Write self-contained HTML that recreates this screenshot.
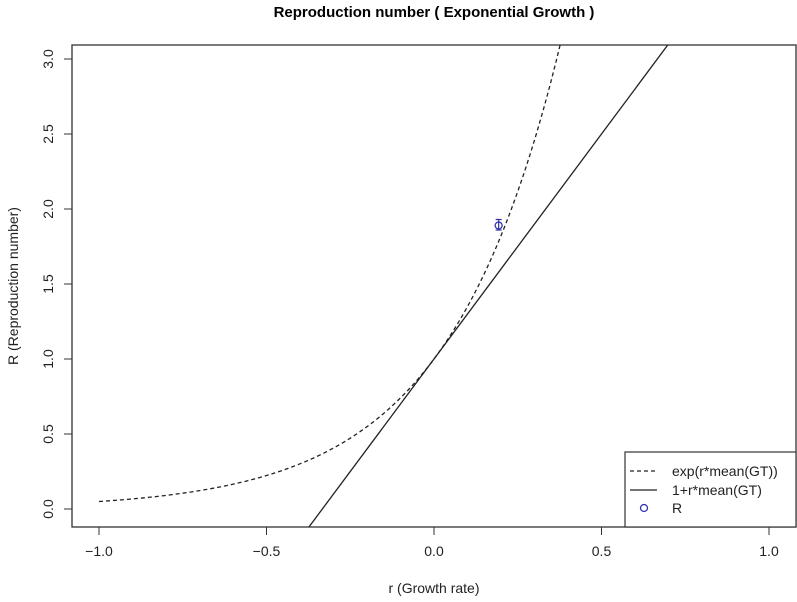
<!DOCTYPE html>
<html><head><meta charset="utf-8"><style>html,body{margin:0;background:#fff;overflow:hidden;width:797px;height:602px}svg{display:block;font-family:"Liberation Sans",sans-serif}</style></head>
<body>
<svg id="c" width="797" height="602"></svg>
<script>
const xTicks=[-1.0,-0.5,0.0,0.5,1.0];
const yTicks=[0.0,0.5,1.0,1.5,2.0,2.5,3.0];
const meanGTcurve=[3.0];
const meanGTline=[3.0];
const rPoint=[0.193];
const RPoint=[1.89];
const RLow=[1.86];
const RHigh=[1.93];
const X=v=>434+v*335, Y=v=>509-v*150;
const NS="http://www.w3.org/2000/svg", svg=document.getElementById('c');
function el(t,a,txt){const e=document.createElementNS(NS,t);for(const k in a)e.setAttribute(k,a[k]);if(txt!=null)e.textContent=txt;svg.appendChild(e);return e;}
const cp=el('clipPath',{id:'cp'});const cr=document.createElementNS(NS,'rect');cr.setAttribute('x',72);cr.setAttribute('y',45);cr.setAttribute('width',724);cr.setAttribute('height',482);cp.appendChild(cr);
let t=el('text',{x:434,y:17,'text-anchor':'middle','font-size':15,'font-weight':'bold'},'Reproduction number ( Exponential Growth )');

let d='';for(let i=0;i<=200;i++){const r=-1+i*1.5/200;d+=(i?'L':'M')+X(r)+' '+Y(Math.exp(r*meanGTcurve[0]));}
let p=el('path',{d:d,fill:'none',stroke:'#222','stroke-width':1.3,'stroke-dasharray':'4 3','clip-path':'url(#cp)'});

let l=el('line',{x1:X(-1),y1:Y(1-meanGTline[0]),x2:X(1.2),y2:Y(1+1.2*meanGTline[0]),stroke:'#222','stroke-width':1.3,'clip-path':'url(#cp)'});

let eb=el('path',{d:`M${X(rPoint[0])} ${Y(RLow[0])}V${Y(RHigh[0])}M${X(rPoint[0])-3} ${Y(RLow[0])}h6M${X(rPoint[0])-3} ${Y(RHigh[0])}h6`,stroke:'#33a','stroke-width':1.2,fill:'none'});

let c=el('circle',{cx:X(rPoint[0]),cy:Y(RPoint[0]),r:3.5,fill:'none',stroke:'#33a','stroke-width':1.3});

let b=el('rect',{x:72,y:45,width:724,height:482,fill:'none',stroke:'#333','stroke-width':1.3});

xTicks.forEach(v=>{el('line',{x1:X(v),y1:527,x2:X(v),y2:535,stroke:'#333'});
 let tx=el('text',{x:X(v),y:556,'text-anchor':'middle','font-size':14,fill:'#222'},v.toFixed(1).replace('-','\u2212'));
 });
yTicks.forEach(v=>{el('line',{x1:64,y1:Y(v),x2:72,y2:Y(v),stroke:'#333'});
 let tx=el('text',{x:53,y:Y(v),'text-anchor':'middle','font-size':14,fill:'#222',transform:`rotate(-90 53 ${Y(v)})`},v.toFixed(1));
 });
t=el('text',{x:434,y:593,'text-anchor':'middle','font-size':14,fill:'#222'},'r (Growth rate)');

t=el('text',{x:18,y:286,'text-anchor':'middle','font-size':14,fill:'#222',transform:'rotate(-90 18 286)'},'R (Reproduction number)');

let lg=el('rect',{x:625,y:452,width:171,height:75,fill:'#fff',stroke:'#333','stroke-width':1.2});

el('line',{x1:630,y1:471,x2:657,y2:471,stroke:'#222','stroke-width':1.3,'stroke-dasharray':'4 3'});
el('line',{x1:630,y1:490,x2:657,y2:490,stroke:'#222','stroke-width':1.3});
el('circle',{cx:644,cy:508,r:3.5,fill:'none',stroke:'#33a','stroke-width':1.3});
[['exp(r*mean(GT))',476],['1+r*mean(GT)',495],['R',513]].forEach(a=>{let e=el('text',{x:672,y:a[1],'font-size':14,fill:'#222'},a[0]);
 });
</script>
</body></html>
